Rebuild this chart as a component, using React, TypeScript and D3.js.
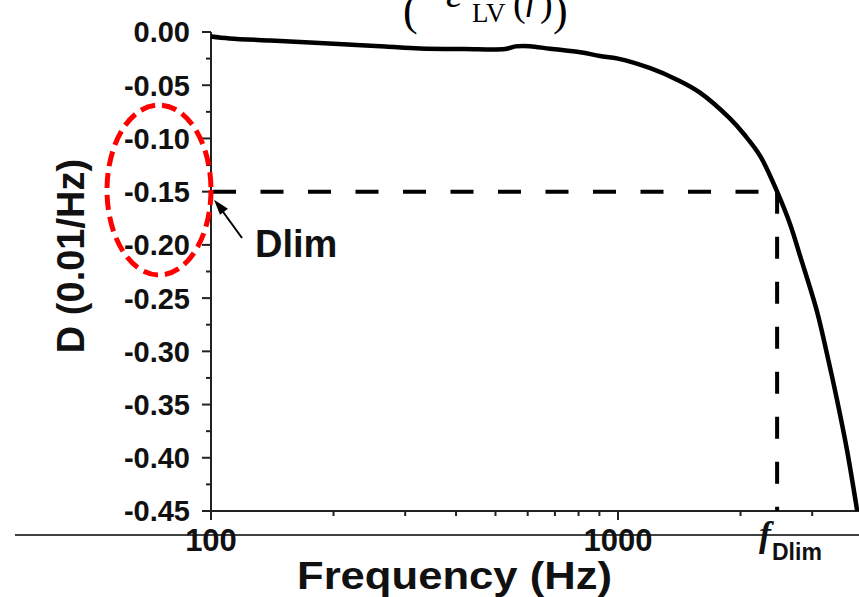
import React from "react";
import * as d3 from "d3";

// Dispersion curve D(f), read along a log frequency axis
const freqHz = [100, 111, 140, 175, 217, 268, 326, 420, 528, 560, 607, 681, 808, 903, 1000, 1200, 1400, 1590, 1880, 2050, 2240, 2460, 2650, 2810, 3080, 3260, 3450, 3650, 3870];
const dValues = [-0.0042, -0.006, -0.008, -0.0098, -0.0117, -0.0136, -0.0155, -0.016, -0.016, -0.0135, -0.0133, -0.0158, -0.019, -0.0225, -0.025, -0.034, -0.045, -0.057, -0.081, -0.097, -0.117, -0.15, -0.181, -0.212, -0.262, -0.302, -0.345, -0.392, -0.45];

const yTicks = [0, -0.05, -0.1, -0.15, -0.2, -0.25, -0.3, -0.35, -0.4, -0.45];
const yMinor = [-0.025, -0.075, -0.125, -0.175, -0.225, -0.275, -0.325, -0.375, -0.425];
const xMajor = [100, 1000];
const xMinor = [200, 300, 400, 500, 600, 700, 800, 900, 2000, 3000];

const dLim = -0.15;
const fDlim = 2460;

const W = 859;
const H = 597;
const sans = "'Liberation Sans', Arial, sans-serif";
const serif = "'Liberation Serif', 'Times New Roman', serif";

export default function App() {
  const x = d3.scaleLog().domain([100, 4000]).range([211, 211 + 407 * Math.log10(40)]);
  const y = d3.scaleLinear().domain([-0.45, 0]).range([511, 32]);

  const pts: [number, number][] = freqHz.map((f, i) => [f, dValues[i]]);
  const line = d3
    .line<[number, number]>()
    .x((d) => x(d[0]))
    .y((d) => y(d[1]))
    .curve(d3.curveCatmullRom.alpha(0.5));

  const x0 = x(100);
  const yBase = y(-0.45);
  const yTop = y(0);

  const ax = x(fDlim);
  const ay = y(dLim);

  return (
    <svg
      width={W}
      height={H}
      style={{ position: "absolute", left: 0, top: 0, background: "#fff" }}
    >
      <rect width={W} height={H} fill="#fff" />

      {/* partial equation at the top edge */}
      <g fill="#000" fontFamily={serif}>
        <text x={403} y={25} fontSize={44}>(</text>
        <text x={446} y={7} fontSize={40} fontStyle="italic">ε</text>
        <text x={472} y={22} fontSize={27}>LV</text>
        <text x={513} y={16} fontSize={38}>(</text>
        <text x={526} y={9} fontSize={38} fontStyle="italic">f</text>
        <text x={540} y={16} fontSize={38}>)</text>
        <text x={553} y={25} fontSize={44}>)</text>
      </g>

      {/* separator line under the axis */}
      <line x1={15} x2={W} y1={535} y2={535} stroke="#000" strokeWidth={1.5} />

      {/* y axis */}
      <line x1={x0} x2={x0} y1={yTop} y2={yBase + 9} stroke="#222" strokeWidth={2} />
      {yTicks.map((t) => (
        <g key={"yt" + t}>
          <line x1={x0 - 9} x2={x0} y1={y(t)} y2={y(t)} stroke="#222" strokeWidth={2} />
          <text
            x={190}
            y={y(t)}
            dy="0.36em"
            textAnchor="end"
            fontFamily={sans}
            fontWeight="bold"
            fontSize={29}
            fill="#111"
          >
            {d3.format(".2f")(t).replace("−", "-")}
          </text>
        </g>
      ))}
      {yMinor.map((t) => (
        <line key={"ym" + t} x1={x0 - 5} x2={x0} y1={y(t)} y2={y(t)} stroke="#222" strokeWidth={2} />
      ))}

      {/* x axis */}
      <line x1={x0} x2={W} y1={yBase} y2={yBase} stroke="#222" strokeWidth={2} />
      {xMajor.map((t) => (
        <line key={"xt" + t} x1={x(t)} x2={x(t)} y1={yBase} y2={yBase + 9} stroke="#222" strokeWidth={2} />
      ))}
      {xMinor.map((t) => (
        <line key={"xm" + t} x1={x(t)} x2={x(t)} y1={yBase} y2={yBase + 5} stroke="#222" strokeWidth={2} />
      ))}
      {xMajor.map((t) => (
        <text
          key={"xl" + t}
          x={x(t)}
          y={551}
          textAnchor="middle"
          fontFamily={sans}
          fontWeight="bold"
          fontSize={31}
          fill="#111"
        >
          {t}
        </text>
      ))}

      {/* f_Dlim label */}
      <text x={759} y={546} fontFamily={serif} fontWeight="bold" fontStyle="italic" fontSize={36} fill="#111">
        f
      </text>
      <text x={772} y={560} fontFamily={sans} fontWeight="bold" fontSize={23} fill="#111">
        Dlim
      </text>

      {/* axis titles */}
      <text
        x={297}
        y={589}
        textLength={315}
        lengthAdjust="spacingAndGlyphs"
        fontFamily={sans}
        fontWeight="bold"
        fontSize={38}
        fill="#111"
      >
        Frequency (Hz)
      </text>
      <text
        transform="translate(84,256) rotate(-90)"
        textAnchor="middle"
        fontFamily={sans}
        fontWeight="bold"
        fontSize={38}
        fill="#111"
      >
        D (0.01/Hz)
      </text>

      {/* Dlim guide lines */}
      <line x1={x0 + 2} x2={ax} y1={ay} y2={ay} stroke="#000" strokeWidth={4} strokeDasharray="23 24.5" />
      <line x1={ax} x2={ax} y1={ay} y2={yBase} stroke="#000" strokeWidth={4} strokeDasharray="22 23" />

      {/* curve */}
      <path d={line(pts) || ""} fill="none" stroke="#000" strokeWidth={4.5} strokeLinejoin="round" />

      {/* Dlim annotation with arrow */}
      <line x1={242} x2={221} y1={238} y2={209} stroke="#000" strokeWidth={2} />
      <path
        d={`M ${x0 + 3} ${ay + 8} L ${x0 + 17} ${ay + 17} L ${x0 + 9} ${ay + 23} Z`}
        fill="#000"
      />
      <text x={255} y={257} fontFamily={sans} fontWeight="bold" fontSize={38} fill="#111">
        Dlim
      </text>

      {/* highlight ellipse around the Dlim tick labels */}
      <ellipse
        cx={159}
        cy={190}
        rx={52}
        ry={85}
        fill="none"
        stroke="#f00"
        strokeWidth={5}
        strokeDasharray="15 7"
      />
    </svg>
  );
}
